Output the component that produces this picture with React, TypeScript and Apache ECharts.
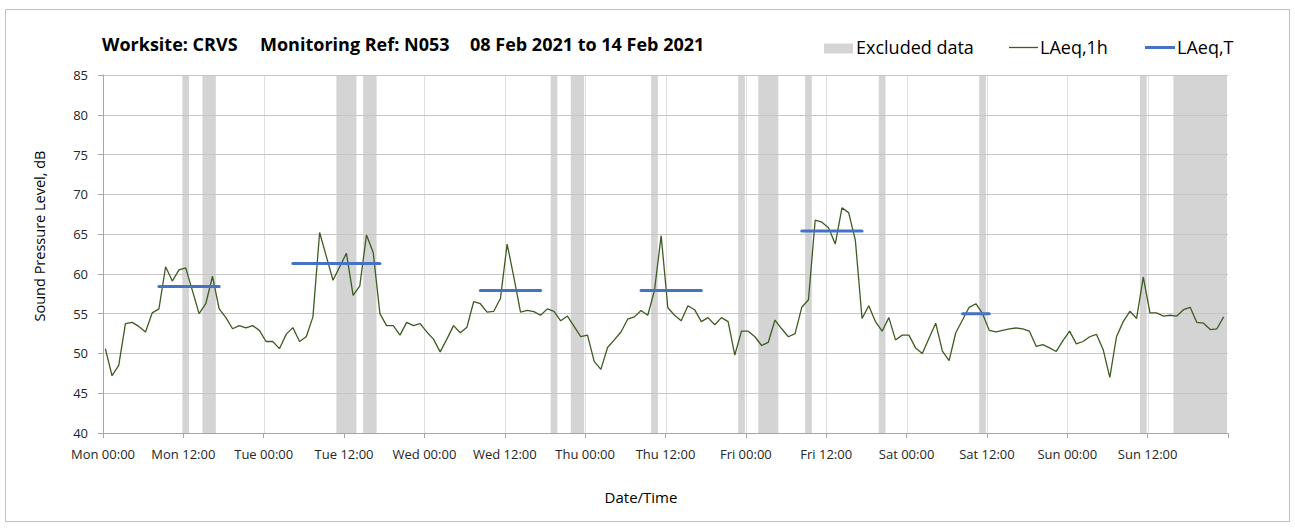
import React, { useEffect, useRef } from "react";
import * as echarts from "echarts";

// Hourly LAeq,1h values, Mon 00:00 .. Sun 23:00 (168 hours)
const laeq1h: number[] = [
  50.6, 47.2, 48.5, 53.75, 53.9, 53.4, 52.7, 55.1, 55.6, 60.9, 59.1, 60.5,
  60.75, 57.9, 55.0, 56.25, 59.7, 55.6, 54.5, 53.1, 53.5, 53.2, 53.5, 52.9,
  51.5, 51.5, 50.6, 52.4, 53.25, 51.5, 52.1, 54.6, 65.2, 62.2, 59.2, 60.9,
  62.6, 57.3, 58.5, 64.9, 62.7, 55.0, 53.5, 53.5, 52.3, 53.9, 53.5, 53.75,
  52.7, 51.8, 50.2, 51.8, 53.5, 52.6, 53.3, 56.5, 56.25, 55.2, 55.3, 56.9,
  63.75, 59.6, 55.2, 55.4, 55.25, 54.8, 55.6, 55.3, 54.1, 54.7, 53.4, 52.1,
  52.3, 49.0, 48.0, 50.75, 51.7, 52.7, 54.3, 54.6, 55.4, 54.8, 57.9, 64.8,
  55.75, 54.8, 54.1, 56.0, 55.5, 54.0, 54.5, 53.6, 54.5, 54.0, 49.8, 52.8,
  52.8, 52.1, 51.0, 51.4, 54.2, 53.1, 52.1, 52.5, 55.8, 56.75, 66.75, 66.5,
  65.8, 63.75, 68.3, 67.7, 64.25, 54.4, 56.0, 54.0, 52.8, 54.5, 51.7, 52.3,
  52.3, 50.7, 50.0, 51.9, 53.8, 50.3, 49.1, 52.6, 54.2, 55.8, 56.25, 55.0,
  52.9, 52.7, 52.9, 53.1, 53.2, 53.1, 52.8, 50.9, 51.1, 50.7, 50.25, 51.6,
  52.8, 51.2, 51.5, 52.1, 52.4, 50.5, 47.0, 52.1, 54.0, 55.3, 54.4, 59.6,
  55.1, 55.1, 54.7, 54.8, 54.7, 55.5, 55.8, 53.9, 53.8, 53.0, 53.1, 54.6,
];

// LAeq,T periods: [first hour index, last hour index, level]
const laeqT: [number, number, number][] = [
  [8, 17, 58.4],
  [28, 41, 61.3],
  [56, 65, 57.9],
  [80, 89, 57.9],
  [104, 113, 65.4],
  [128, 132, 55.0],
];

// Excluded hours: [first hour index, last hour index]
const excluded: [number, number][] = [
  [12, 12], [15, 16], [35, 37], [39, 40], [67, 67], [70, 71], [82, 82],
  [95, 95], [98, 100], [105, 105], [116, 116], [131, 131], [155, 155], [160, 167],
];

// x-axis ticks (hours from Mon 00:00)
const xTicks: number[] = [0, 12, 24, 36, 48, 60, 72, 84, 96, 108, 120, 132, 144, 156, 168];
const dayNames = ["Mon", "Tue", "Wed", "Thu", "Fri", "Sat", "Sun"];
const yMin = 40;
const yMax = 85;
const hoursTotal = 168;
// timestamp position of each hourly sample within the hour (hours)
const SAMPLE_SHIFT = 0.35;

const FONT = "'Open Sans', sans-serif";
const GREEN = "#3d5c22";
const BLUE = "#4472c4";
const GREY_BAND = "#d4d4d4";

export default function App() {
  const ref = useRef<HTMLDivElement>(null);

  useEffect(() => {
    if (!ref.current) return;
    const chart = echarts.init(ref.current, undefined, { renderer: "svg" });

    const bandData = excluded.map(([a, b]) => [
      a + SAMPLE_SHIFT - 0.5,
      Math.min(b + SAMPLE_SHIFT + 0.5, hoursTotal),
    ]);

    const tSeries = laeqT.map(([a, b, v]) => ({
      name: "LAeq,T",
      type: "line",
      data: [
        [a + SAMPLE_SHIFT, v],
        [b + SAMPLE_SHIFT, v],
      ],
      symbol: "none",
      lineStyle: { color: BLUE, width: 3, cap: "round" },
      z: 5,
      silent: true,
    }));

    const option: any = {
      animation: false,
      grid: { left: 103, right: 67, top: 75, bottom: 97 },
      xAxis: {
        type: "value",
        min: 0,
        max: hoursTotal,
        interval: 12,
        axisLine: { show: true, lineStyle: { color: "#a6a6a6", width: 1 } },
        axisTick: { show: true, length: 5, lineStyle: { color: "#a6a6a6" } },
        splitLine: { show: false },
        axisLabel: {
          margin: 14,
          color: "#262626",
          fontFamily: FONT,
          fontSize: 13,
          formatter: (v: number) => {
            if (v >= hoursTotal) return "";
            const d = Math.floor(v / 24);
            const h = v % 24;
            return dayNames[d] + " " + (h === 0 ? "00:00" : "12:00");
          },
        },
      },
      yAxis: {
        type: "value",
        min: yMin,
        max: yMax,
        interval: 5,
        axisLine: { show: true, lineStyle: { color: "#a6a6a6", width: 1 } },
        axisTick: { show: true, length: 5, lineStyle: { color: "#a6a6a6" } },
        splitLine: { show: true, lineStyle: { color: "#c6c6c6", width: 1 } },
        axisLabel: {
          margin: 15,
          color: "#262626",
          fontFamily: FONT,
          fontSize: 13,
        },
      },
      series: [
        {
          name: "vgrid",
          type: "custom",
          z: -2,
          silent: true,
          data: xTicks.slice(1, -1),
          renderItem: (params: any, api: any) => {
            const p0 = api.coord([api.value(0), yMax]);
            const p1 = api.coord([api.value(0), yMin]);
            const x = Math.round(p0[0]) + 0.5;
            return {
              type: "line",
              shape: { x1: x, y1: p0[1], x2: x, y2: p1[1] },
              style: { stroke: "#e0e0e0", lineWidth: 1 },
            };
          },
        },
        {
          name: "Excluded data",
          type: "custom",
          z: -1,
          silent: true,
          data: bandData,
          renderItem: (params: any, api: any) => {
            const p0 = api.coord([api.value(0), yMax]);
            const p1 = api.coord([api.value(1), yMin]);
            return {
              type: "rect",
              shape: { x: p0[0], y: p0[1], width: p1[0] - p0[0], height: p1[1] - p0[1] },
              style: { fill: GREY_BAND },
            };
          },
        },
        {
          name: "LAeq,1h",
          type: "line",
          data: laeq1h.map((v, i) => [i + SAMPLE_SHIFT, v]),
          symbol: "none",
          lineStyle: { color: GREEN, width: 1.3 },
          z: 4,
          silent: true,
        },
        ...tSeries,
      ],
      graphic: [
        {
          type: "rect",
          shape: { x: 5.5, y: 9.5, width: 1284, height: 512 },
          style: { fill: "none", stroke: "#bfbfbf", lineWidth: 1 },
          silent: true,
        },
        {
          type: "text",
          x: 102,
          y: 44,
          style: { text: "Worksite: CRVS", font: `bold 18px ${FONT}`, fill: "#000", verticalAlign: "middle" },
        },
        {
          type: "text",
          x: 260,
          y: 44,
          style: { text: "Monitoring Ref: N053", font: `bold 18px ${FONT}`, fill: "#000", verticalAlign: "middle" },
        },
        {
          type: "text",
          x: 470,
          y: 44,
          style: { text: "08 Feb 2021 to 14 Feb 2021", font: `bold 18px ${FONT}`, fill: "#000", verticalAlign: "middle" },
        },
        {
          type: "rect",
          shape: { x: 824, y: 43.5, width: 29, height: 10 },
          style: { fill: GREY_BAND },
        },
        {
          type: "text",
          x: 856,
          y: 47,
          style: { text: "Excluded data", font: `18px ${FONT}`, fill: "#000", verticalAlign: "middle" },
        },
        {
          type: "line",
          shape: { x1: 1009, y1: 47.5, x2: 1038, y2: 47.5 },
          style: { stroke: GREEN, lineWidth: 1.3 },
        },
        {
          type: "text",
          x: 1040,
          y: 47,
          style: { text: "LAeq,1h", font: `18px ${FONT}`, fill: "#000", verticalAlign: "middle" },
        },
        {
          type: "line",
          shape: { x1: 1145, y1: 47.5, x2: 1175, y2: 47.5 },
          style: { stroke: BLUE, lineWidth: 3 },
        },
        {
          type: "text",
          x: 1177,
          y: 47,
          style: { text: "LAeq,T", font: `18px ${FONT}`, fill: "#000", verticalAlign: "middle" },
        },
        {
          type: "text",
          x: 39,
          y: 236,
          rotation: Math.PI / 2,
          style: {
            text: "Sound Pressure Level, dB",
            font: `14.5px ${FONT}`,
            fill: "#000",
            align: "center",
            verticalAlign: "middle",
          },
        },
        {
          type: "text",
          x: 641,
          y: 497,
          style: {
            text: "Date/Time",
            font: `15px ${FONT}`,
            fill: "#000",
            align: "center",
            verticalAlign: "middle",
          },
        },
      ],
    };

    chart.setOption(option);
    return () => chart.dispose();
  }, []);

  return (
    <div
      ref={ref}
      style={{ position: "absolute", left: 0, top: 0, width: 1295, height: 530, background: "#fff" }}
    />
  );
}
